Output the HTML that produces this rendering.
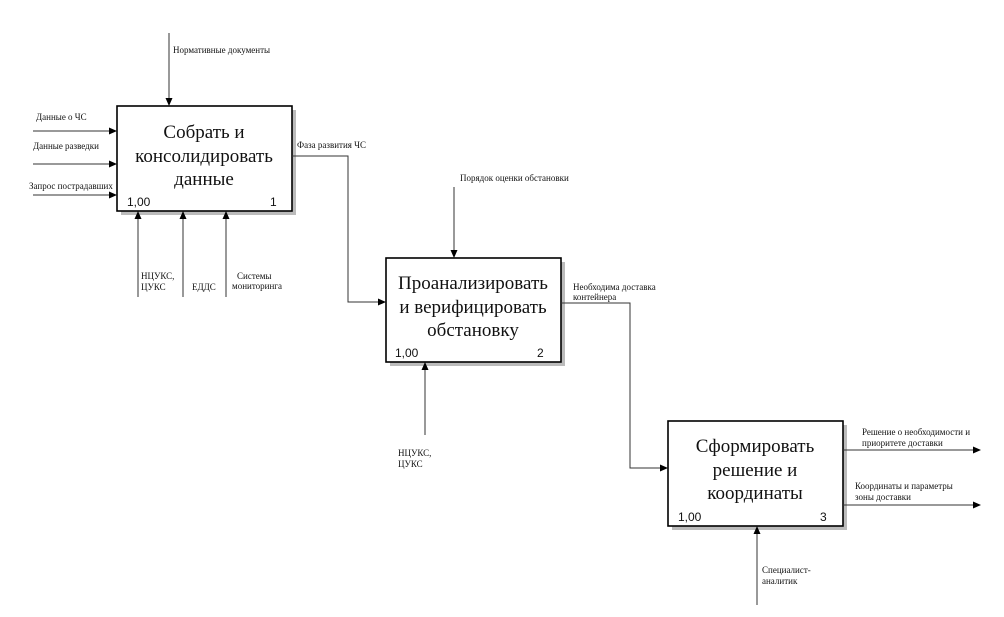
<!DOCTYPE html>
<html><head><meta charset="utf-8"><style>
body{margin:0;background:#fff}
svg{display:block}
.s{font-family:"Liberation Serif","Noto Serif CJK SC",serif;font-size:9px;fill:#111}
.b{font-family:"Liberation Serif","Noto Serif CJK SC",serif;font-size:19px;fill:#111;text-anchor:middle}
.n{font-family:"Liberation Sans","DejaVu Sans",sans-serif;font-size:12px;fill:#111}
</style></head><body>
<svg width="1004" height="617" viewBox="0 0 1004 617" xmlns="http://www.w3.org/2000/svg">
<defs><marker id="a" markerWidth="8" markerHeight="8" refX="7" refY="4" orient="auto" markerUnits="userSpaceOnUse"><path d="M0,0.5 L8,4 L0,7.5z" fill="#000"/></marker></defs>
<g fill="#bbb"><rect x="121" y="110" width="175" height="105"/><rect x="390" y="262" width="175" height="104"/><rect x="672" y="425" width="175" height="105"/></g>
<g fill="#fff" stroke="#000" stroke-width="1.6"><rect x="117" y="106" width="175" height="105"/><rect x="386" y="258" width="175" height="104"/><rect x="668" y="421" width="175" height="105"/></g>
<g stroke="#333" stroke-width="1" fill="none" marker-end="url(#a)">
<line x1="169" y1="33" x2="169" y2="105"/>
<line x1="33" y1="131" x2="116" y2="131"/>
<line x1="33" y1="164" x2="116" y2="164"/>
<line x1="33" y1="195" x2="116" y2="195"/>
<line x1="138" y1="297" x2="138" y2="212"/>
<line x1="183" y1="297" x2="183" y2="212"/>
<line x1="226" y1="297" x2="226" y2="212"/>
<polyline points="292,156 348,156 348,302 385,302"/>
<line x1="454" y1="187" x2="454" y2="257"/>
<line x1="425" y1="435" x2="425" y2="363"/>
<polyline points="561,303 630,303 630,468 667,468"/>
<line x1="843" y1="450" x2="980" y2="450"/>
<line x1="843" y1="505" x2="980" y2="505"/>
<line x1="757" y1="605" x2="757" y2="527"/>
</g>
<text class="b"><tspan x="204" y="138">Собрать и</tspan><tspan x="204" y="162">консолидировать</tspan><tspan x="204" y="185">данные</tspan></text>
<text class="n" x="127" y="206">1,00</text><text class="n" x="270" y="206">1</text>
<text class="b"><tspan x="473" y="289">Проанализировать</tspan><tspan x="473" y="313">и верифицировать</tspan><tspan x="473" y="336">обстановку</tspan></text>
<text class="n" x="395" y="357">1,00</text><text class="n" x="537" y="357">2</text>
<text class="b"><tspan x="755" y="452">Сформировать</tspan><tspan x="755" y="476">решение и</tspan><tspan x="755" y="499">координаты</tspan></text>
<text class="n" x="678" y="521">1,00</text><text class="n" x="820" y="521">3</text>
<text class="s" x="173" y="53">Нормативные документы</text>
<text class="s" x="36" y="120">Данные о ЧС</text>
<text class="s" x="33" y="149">Данные разведки</text>
<text class="s" x="29" y="189">Запрос пострадавших</text>
<text class="s"><tspan x="141" y="279">НЦУКС,</tspan><tspan x="141" y="290">ЦУКС</tspan></text>
<text class="s" x="192" y="290">ЕДДС</text>
<text class="s"><tspan x="237" y="279">Системы</tspan><tspan x="232" y="289">мониторинга</tspan></text>
<text class="s" x="297" y="148">Фаза развития ЧС</text>
<text class="s" x="460" y="181">Порядок оценки обстановки</text>
<text class="s"><tspan x="573" y="290">Необходима доставка</tspan><tspan x="573" y="300">контейнера</tspan></text>
<text class="s"><tspan x="398" y="456">НЦУКС,</tspan><tspan x="398" y="467">ЦУКС</tspan></text>
<text class="s"><tspan x="862" y="435">Решение о необходимости и</tspan><tspan x="862" y="446">приоритете доставки</tspan></text>
<text class="s"><tspan x="855" y="489">Координаты и параметры</tspan><tspan x="855" y="500">зоны доставки</tspan></text>
<text class="s"><tspan x="762" y="573">Специалист-</tspan><tspan x="762" y="584">аналитик</tspan></text>
</svg>
</body></html>
